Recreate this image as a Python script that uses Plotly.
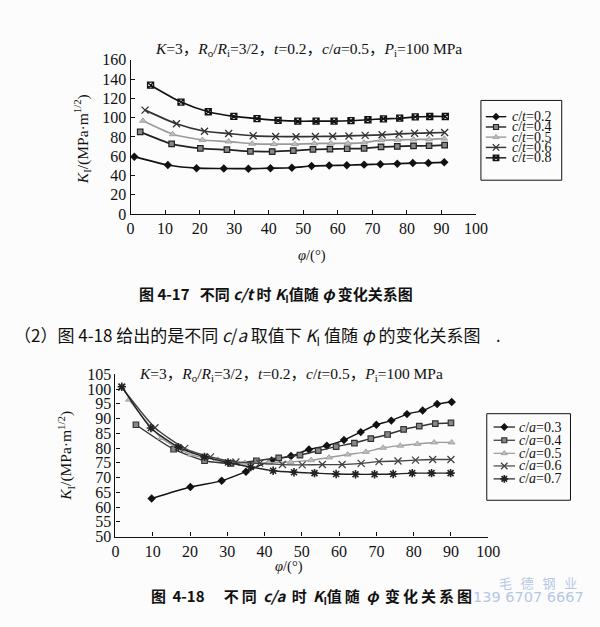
import plotly.graph_objects as go

W, H = 600, 627

# ---------------- Chart 1 data (figure 4-17) ----------------
ct_names = ["c/t=0.2", "c/t=0.4", "c/t=0.5", "c/t=0.6", "c/t=0.8"]
phi_ct02 = [1.1, 10.8, 19.1, 27.0, 34.1, 40.5, 46.7, 52.4, 57.5, 62.6, 67.6, 72.3, 77.2, 81.7, 86.2, 90.8]
k_ct02 = [59.5, 50.8, 47.5, 47.2, 47.0, 47.5, 48.0, 49.8, 50.3, 50.6, 51.2, 51.6, 52.2, 52.8, 53.0, 53.6]
phi_ct04 = [2.8, 11.9, 20.2, 27.9, 34.7, 41.0, 47.1, 52.8, 57.7, 62.7, 67.6, 72.5, 77.2, 81.9, 86.4, 90.9]
k_ct04 = [85.2, 72.7, 68.1, 66.7, 65.0, 64.8, 65.7, 67.0, 67.4, 67.7, 68.1, 69.7, 70.1, 70.7, 70.8, 71.4]
phi_ct05 = [3.6, 12.2, 20.8, 28.4, 35.2, 41.5, 47.6, 53.2, 58.0, 62.9, 67.6, 72.6, 77.3, 81.9, 86.4, 90.8]
k_ct05 = [96.7, 82.8, 76.8, 75.2, 72.9, 72.5, 72.5, 73.1, 73.3, 73.3, 74.1, 76.6, 77.0, 77.3, 77.5, 78.2]
phi_ct06 = [4.2, 13.3, 21.4, 28.4, 35.5, 42.0, 47.9, 53.5, 58.5, 63.2, 67.9, 72.8, 77.7, 82.2, 86.6, 90.9]
k_ct06 = [107.8, 93.6, 85.9, 83.5, 81.2, 80.4, 80.2, 80.4, 80.6, 81.0, 81.6, 82.2, 83.1, 83.8, 84.2, 84.6]
phi_ct08 = [5.8, 14.6, 22.5, 29.9, 36.6, 42.7, 48.4, 53.7, 58.9, 63.8, 68.7, 73.2, 77.9, 82.4, 86.6, 91.1]
k_ct08 = [133.7, 116.2, 106.1, 101.3, 99.0, 97.2, 96.3, 96.3, 96.3, 96.8, 97.8, 98.8, 99.4, 100.8, 101.2, 101.2]

# ---------------- Chart 2 data (figure 4-18) ----------------
ca_names = ["c/a=0.3", "c/a=0.4", "c/a=0.5", "c/a=0.6", "c/a=0.7"]
phi_ca03 = [9.7, 20.1, 28.5, 35.0, 41.9, 47.1, 51.9, 56.7, 61.3, 65.8, 70.0, 74.0, 78.2, 82.4, 86.3, 90.2]
k_ca03 = [62.9, 66.8, 68.9, 72.0, 75.8, 77.3, 79.5, 80.8, 82.7, 85.4, 87.9, 89.3, 91.5, 92.7, 94.9, 95.6]
phi_ca04 = [5.5, 15.6, 23.9, 31.0, 37.8, 43.8, 49.5, 54.4, 59.2, 64.1, 68.5, 73.0, 77.3, 81.5, 85.8, 90.0]
k_ca04 = [87.9, 79.6, 75.7, 74.8, 75.7, 76.7, 77.6, 79.1, 80.5, 81.7, 83.2, 84.6, 86.3, 87.4, 88.3, 88.5]
phi_ca05 = [3.6, 12.3, 20.2, 27.5, 34.8, 41.2, 47.0, 52.5, 57.3, 62.3, 67.2, 71.8, 76.4, 81.0, 85.5, 90.2]
k_ca05 = [96.4, 83.4, 77.8, 76.0, 75.0, 75.0, 75.3, 75.9, 76.8, 77.8, 78.7, 80.1, 80.8, 81.4, 81.9, 81.9]
phi_ca06 = [1.7, 10.6, 18.6, 25.5, 32.3, 38.7, 44.8, 50.1, 55.5, 60.8, 65.9, 70.7, 75.8, 80.5, 85.1, 90.0]
k_ca06 = [100.6, 86.9, 79.9, 77.0, 75.3, 74.8, 74.4, 74.3, 74.4, 74.4, 74.8, 75.4, 75.6, 75.9, 76.1, 76.1]
phi_ca07 = [1.7, 9.5, 16.9, 23.9, 30.2, 36.3, 42.3, 47.9, 53.4, 59.2, 64.4, 69.5, 74.5, 79.6, 84.8, 89.9]
k_ca07 = [100.8, 86.8, 80.3, 77.0, 75.1, 73.6, 72.3, 71.8, 71.5, 71.2, 71.1, 71.1, 71.2, 71.5, 71.5, 71.5]

x_ticks = [0, 10, 20, 30, 40, 50, 60, 70, 80, 90, 100]
y1_ticks = [0, 20, 40, 60, 80, 100, 120, 140, 160]
y2_ticks = [50, 55, 60, 65, 70, 75, 80, 85, 90, 95, 100, 105]


def px(x):
    return x / W


def py(y):
    return 1 - y / H


SERIF = "Liberation Serif, Times New Roman, Noto Sans CJK SC, serif"
CJK = "Noto Sans CJK SC, sans-serif"

styles1 = [
    dict(color="#111", symbol="diamond", size=6.5, mcolor="#111", lw=0),
    dict(color="#222", symbol="square", size=5.5, mcolor="#888", lw=1.2),
    dict(color="#9a9a9a", symbol="triangle-up", size=6, mcolor="#bdbdbd", lw=0.8),
    dict(color="#333", symbol="x-thin-open", size=7, mcolor="#333", lw=1.3),
    dict(color="#111", symbol="square-x-open", size=6, mcolor="#111", lw=1.3),
]
styles2 = [
    dict(color="#111", symbol="diamond", size=6.5, mcolor="#111", lw=0),
    dict(color="#333", symbol="square", size=5.5, mcolor="#888", lw=1.2),
    dict(color="#9a9a9a", symbol="triangle-up", size=6, mcolor="#bdbdbd", lw=0.8),
    dict(color="#444", symbol="x-thin-open", size=7, mcolor="#444", lw=1.3),
    dict(color="#222", symbol="asterisk-open", size=7, mcolor="#222", lw=1.6),
]

fig = go.Figure()

series1 = [(phi_ct02, k_ct02), (phi_ct04, k_ct04), (phi_ct05, k_ct05), (phi_ct06, k_ct06), (phi_ct08, k_ct08)]
for (xs, ys), st, nm in zip(series1, styles1, ct_names):
    mk = dict(symbol=st["symbol"], size=st["size"], color=st["mcolor"])
    if st["lw"]:
        mk["line"] = dict(color=st["color"], width=st["lw"])
    fig.add_trace(go.Scatter(x=xs, y=ys, mode="lines+markers", name=nm, xaxis="x", yaxis="y",
                             line=dict(color=st["color"], width=1.7, shape="spline", smoothing=0.6),
                             marker=mk, showlegend=False))

series2 = [(phi_ca03, k_ca03), (phi_ca04, k_ca04), (phi_ca05, k_ca05), (phi_ca06, k_ca06), (phi_ca07, k_ca07)]
for (xs, ys), st, nm in zip(series2, styles2, ca_names):
    mk = dict(symbol=st["symbol"], size=st["size"], color=st["mcolor"])
    if st["lw"]:
        mk["line"] = dict(color=st["color"], width=st["lw"])
    fig.add_trace(go.Scatter(x=xs, y=ys, mode="lines+markers", name=nm, xaxis="x2", yaxis="y2",
                             line=dict(color=st["color"], width=1.4, shape="spline", smoothing=0.6),
                             marker=mk, showlegend=False))

# ---------------- hand-drawn legends (overlay pixel axis) ----------------
leg1_y = [111.7, 122.3, 132.7, 143.3, 154.0]
leg2_y = [430.7, 444.3, 457.7, 470.7, 484.0]


def legend_samples(ys, x0, x1, styles, lw):
    for yy, st in zip(ys, styles):
        fig.add_trace(go.Scatter(x=[x0, x1], y=[yy, yy], mode="lines", xaxis="x3", yaxis="y3",
                                 line=dict(color=st["color"], width=lw), showlegend=False, hoverinfo="skip"))
        mk = dict(symbol=st["symbol"], size=st["size"] - 0.5, color=st["mcolor"])
        if st["lw"]:
            mk["line"] = dict(color=st["color"], width=st["lw"])
        fig.add_trace(go.Scatter(x=[(x0 + x1) / 2], y=[yy], mode="markers", xaxis="x3", yaxis="y3",
                                 marker=mk, showlegend=False, hoverinfo="skip"))


legend_samples(leg1_y, 495, 516, styles1, 1.4)
legend_samples(leg2_y, 503, 525, styles2, 1.2)

annotations = []
shapes = []


def ann(text, x, y, size, font=SERIF, xanchor="center", yanchor="middle", color="#111", angle=0, weight="normal"):
    annotations.append(dict(text=text, x=px(x), y=py(y), xref="paper", yref="paper",
                            xanchor=xanchor, yanchor=yanchor, showarrow=False, textangle=angle,
                            font=dict(family=font, size=size, color=color, weight=weight)))


def italic_label(nm):
    a, b = nm.split("=")
    c1, c2 = a.split("/")
    return f"<i>{c1}</i>/<i>{c2}</i>={b}"


for yy, nm in zip(leg1_y, ct_names):
    ann(italic_label(nm), 520, yy, 14, xanchor="left")
for yy, nm in zip(leg2_y, ca_names):
    ann(italic_label(nm), 527, yy, 14, xanchor="left")

shapes.append(dict(type="rect", xref="paper", yref="paper", x0=px(490), x1=px(573), y0=py(95), y1=py(177),
                   line=dict(color="#111", width=1)))
shapes.append(dict(type="rect", xref="paper", yref="paper", x0=px(496), x1=px(582), y0=py(417), y1=py(506),
                   line=dict(color="#111", width=1)))

# titles
ann("<i>K</i>=3，<i>R</i><sub>o</sub>/<i>R</i><sub>i</sub>=3/2，<i>t</i>=0.2，<i>c</i>/<i>a</i>=0.5，<i>P</i><sub>i</sub>=100 MPa",
    313, 43, 15.5)
ann("<i>K</i>=3，<i>R</i><sub>o</sub>/<i>R</i><sub>i</sub>=3/2，<i>t</i>=0.2，<i>c</i>/<i>t</i>=0.5，<i>P</i><sub>i</sub>=100 MPa",
    295, 377, 15.5)

# axis titles
ytitle = "<i>K</i><sub>I</sub>/(MPa·m<sup>1/2</sup>)"
ann(ytitle, 81, 135, 15.5, angle=-90)
ann(ytitle, 63, 460, 15.5, angle=-90)
ann("<i>φ</i>/(°)", 316, 254, 14.5)
ann("<i>φ</i>/(°)", 293, 574, 14.5)

# captions and body text
ts = "\u2009"
ann("图 4-17   不同 <i>c/t</i> 时 <i>K</i><sub>I</sub>值随 <i>φ</i> 变化关系图", 279, 294, 15, font=CJK, weight="bold")
ann("（2）图 4-18 给出的是不同 <i>c</i>/<i>a</i> 取值下 <i>K</i><sub>I</sub> 值随 <i>φ</i> 的变化关系图", 8, 337, 17,
    font=CJK, xanchor="left")
ann(".", 508, 336, 16, font=CJK)
cap2 = ("图" + ts + " 4-18 " + ts * 3 + "  " + ts.join("不同") + " " + ts + "<i>c/a</i>" + ts + " " + "时" + ts + " <i>K</i><sub>I</sub>"
        + ts.join("值随") + ts + " <i>φ</i> " + ts + ts.join("变化关系图"))
ann(cap2, 316, 605, 15, font=CJK, weight="bold")

# watermark
ann("毛   德   钢   业", 591, 591, 13, font=CJK, color="#b4c8e6", xanchor="right")
ann("139 6707 6667", 598, 605, 14.5, font="DejaVu Sans, sans-serif", color="#b4c8e6", xanchor="right")

axis_common = dict(showline=True, linecolor="#111", linewidth=1.2, ticks="inside", ticklen=4,
                   tickcolor="#111", tickwidth=1.2, showgrid=False, zeroline=False,
                   tickfont=dict(family=SERIF, size=16, color="#111"))

fig.update_layout(
    width=W, height=H, margin=dict(l=0, r=0, t=0, b=0),
    paper_bgcolor="#fcfcfc", plot_bgcolor="rgba(0,0,0,0)",
    showlegend=False,
    xaxis=dict(domain=[px(130), px(485)], range=[0, 100], tickvals=x_ticks, anchor="y", **axis_common),
    yaxis=dict(domain=[py(211.7), py(53.3)], range=[0, 160], tickvals=y1_ticks, anchor="x", **axis_common),
    xaxis2=dict(domain=[px(114.5), px(497.5)], range=[0, 100], tickvals=x_ticks, anchor="y2", **axis_common),
    yaxis2=dict(domain=[py(543.3), py(376.5)], range=[50, 105], tickvals=y2_ticks, anchor="x2", **axis_common),
    xaxis3=dict(domain=[0, 1], range=[0, W], visible=False, anchor="y3"),
    yaxis3=dict(domain=[0, 1], range=[H, 0], visible=False, anchor="x3"),
    annotations=annotations,
    shapes=shapes,
)

fig.write_html("out.html")
